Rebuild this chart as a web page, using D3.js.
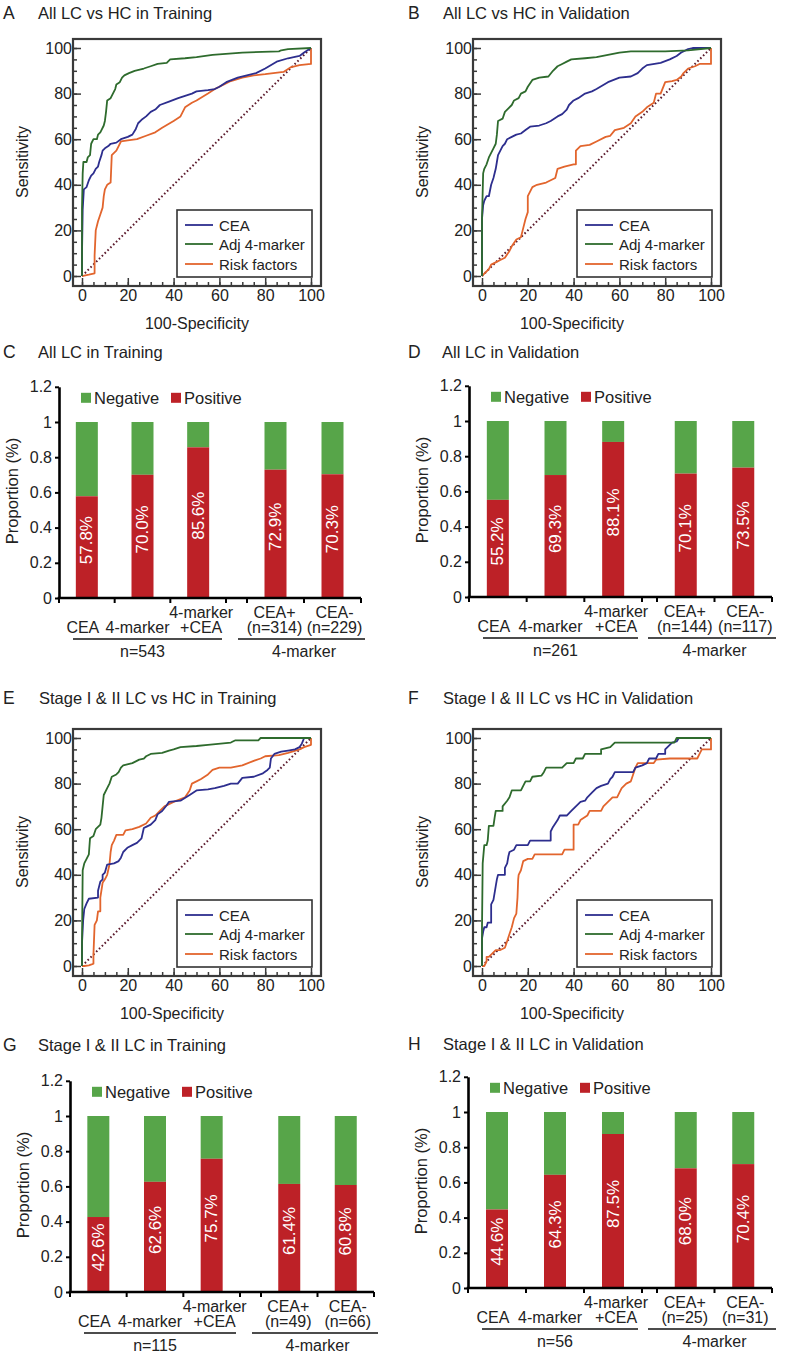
<!DOCTYPE html>
<html><head><meta charset="utf-8">
<script src="https://cdnjs.cloudflare.com/ajax/libs/d3/7.8.5/d3.min.js"></script>
<style>
body{margin:0;background:#fff}
svg{display:block}
text{font-family:"Liberation Sans",Arial,Helvetica,sans-serif;fill:#222}
</style>
</head><body>
<svg id="chart" width="787" height="1355"></svg>
<script>
// ---------------- DATA ----------------
const rocSeriesNames = ["CEA", "Adj 4-marker", "Risk factors"];
const rocTitles = ["All LC vs HC in Training", "All LC vs HC in Validation",
  "Stage I & II LC vs HC in Training", "Stage I & II LC vs HC in Validation"];
const rocTickValues = [0, 20, 40, 60, 80, 100];
const rocMinorTicks = [0,5,10,15,20,25,30,35,40,45,50,55,60,65,70,75,80,85,90,95,100];
const rocDiagonal = [[0,0],[100,100]];

// Panel A: [100-Specificity, Sensitivity]
const A_cea = [[0,0],[0,10],[0.3,29],[0.8,38],[2,39],[3,42],[4,44],[5,45],[6,47],[7,48],[7.5,50],[8.5,53],[9,55],[10,56],[11.5,57],[12.5,58],[15,58.5],[17,60],[20,61],[22,62],[23.5,64.5],[24.5,67],[26,68.5],[28,70],[30,72],[32,73],[34,75],[38,76.5],[42,78],[45,79],[48,80],[50,81],[55,81.5],[58,82],[60,83],[63,85],[68,87],[72,88],[76,89],[80,91],[85,94],[90,95.5],[95,96.5],[97,98],[100,100]];
const A_adj = [[0,0],[0,30],[0.3,45],[0.6,50],[2,50],[2.5,52],[3.5,53],[4,58],[5,60],[6.5,60],[7,62],[8,63],[8.5,64],[9.5,66],[10,68],[10.5,72],[11,77],[12.5,78],[13.5,80],[14.5,82],[15,84],[16.5,85],[17.5,87],[18.5,88],[20.5,89],[23,90],[27,91],[30,92],[33,93],[37,93.5],[38.5,95],[45,95.5],[50,96],[57,97],[70,98],[86,98.5],[87,99],[90,99.5],[100,100]];
const A_risk = [[0,0],[1,0.2],[3,0.6],[5.5,1.2],[5.5,9],[6,20],[7,24],[8,27],[9,30],[9.5,35],[10,38],[11,40],[12.5,41],[13,53],[14,54],[15,55],[16,57],[17,59],[20,59.5],[24,60],[28,61.5],[32,63],[35,65],[40,68],[43,70],[44,72],[45,74],[48,76],[50,77],[55,80],[58,82],[62,84],[65,85.5],[70,87],[75,88],[80,88.5],[88,89.5],[91,91.5],[95,92.5],[100,93],[100,100]];

// Panel B
const B_cea = [[0,0],[0,25],[0.5,31],[1,33],[2,35],[3,35],[4,40],[5,43],[6,47],[6.5,50],[7,53],[8,55],[9,57],[10,58],[11,60],[13,61],[15,62],[17,62.5],[19,64],[21,65.5],[25,66],[28,67],[30,68],[33,70],[35,71],[37,73],[38,75],[40,77],[42,78],[45,80],[48,81],[50,82],[55,85],[60,87],[65,87.5],[68,89],[70,91],[72,92.5],[78,93.5],[82,95],[85,96.5],[87,98],[90,99.5],[92,100],[100,100]];
const B_adj = [[0,0],[0,25],[0.5,45],[1,47],[2,49],[3,52],[4,54],[5,56],[6,58],[6.5,62],[7,68],[9,69],[10,72],[11,73],[13,75],[14,77],[16,78],[17,80],[19,81],[20,83],[22,86],[25,87],[29,87.5],[31,90],[33,92],[35,93],[37,94],[39,95],[45,95.5],[50,96],[55,97],[60,98],[65,98.5],[80,98.5],[90,99],[100,100]];
const B_risk = [[0,0],[1,1],[3,3],[4,5],[6,6],[8,7],[10,8],[12,11],[13,13],[15,16],[17,17],[18,21],[19,25],[20,28],[20,35],[21,37],[22,39],[24,40],[28,41],[32,43],[33,47],[36,48],[40,49],[41,49],[41,55],[43,57],[47,57.5],[50,59],[54,61],[56,61.5],[58,64],[62,65],[65,67],[67,70],[70,72],[72,74],[75,76],[76,80],[78,80],[80,85],[83,85.5],[85,86],[87,87.5],[88,89],[90,91],[93,92],[95,93],[100,93],[100,100]];

// Panel E
const E_cea = [[0,0],[0,10],[0.5,20],[1,25],[2,27.5],[3,29.5],[7,30],[7,33],[8,37],[9,38],[9,40],[10,41],[11,44.5],[14,45],[16,46],[17,47.5],[18,50],[20,52],[22,53],[24,54],[26,56],[27,60.5],[28,61],[30,62],[32,64],[33,66.5],[35,68],[37,70.5],[38,72],[43,72.5],[47,75],[50,77],[55,77.5],[58,78],[62,79],[65,80],[68,80],[70,82.5],[75,83],[79,84.5],[81,86],[82,87],[82.5,91],[84,93],[87,94],[90,94.5],[93,95],[95,96],[96,97.5],[97,100],[100,100]];
const E_adj = [[0,0],[0,10],[0.3,42],[1,45],[2,47],[3,49],[3.5,56],[5,57],[6,60],[8,62],[8.5,65],[9,70],[9.5,75],[11,78],[12,80],[13,83],[15,84],[16,85],[17,87],[18,88],[22,89],[25,90.5],[27,91],[28,92],[30,93],[35,93.5],[38,94.5],[40,95],[43,96],[50,96.5],[55,97],[65,98],[67,99],[77,99],[78,100],[100,100]];
const E_risk = [[0,0],[1,0],[3,0.3],[4.5,0.8],[5,1],[5,5],[5.5,18],[6.5,20],[7,24],[8,24],[8,30],[9,36.5],[10,38],[11,40],[12,44.5],[12.5,50],[13,53],[14,55],[15,57.5],[18,57.5],[19,59.5],[22,60],[25,61],[28,62.5],[30,65],[32,66],[34,68],[36,70],[40,72],[45,74],[47,77],[48,80],[50,81],[52,82],[55,84],[57,86],[60,87],[65,87],[70,88],[75,90],[78,91],[80,92],[86,92.5],[90,93.5],[95,95],[97,96],[100,97],[100,100]];

// Panel F
const F_cea = [[0,0],[0,12],[0.5,15],[1,17],[2,17],[2.5,19],[4,19],[4,27],[5,29],[6,35],[6.5,38],[7,40],[10,40],[10,43],[11,45],[11.5,48],[12,50],[14,51],[15,53],[20,53],[21,55],[30,55],[30,59],[31,61],[33,64],[34,66],[37,66],[39,68],[41,70],[43,72],[45,72.5],[46,74],[48,76],[50,78],[52,79],[55,80],[56,82],[57,83],[58,85],[66,85],[67,87],[70,88],[72,89],[73,91],[76,91],[77,93],[80,93],[80,95],[82,97],[83,98],[85,98.5],[86,100],[100,100]];
const F_adj = [[0,0],[0,17],[0.3,45],[1,53],[2,53],[2.5,55],[3,61.5],[5,61.5],[5.5,65],[6,68],[9,68],[9,70],[11,72.5],[12,74],[13,77],[17,77],[18,79],[19,81],[21,81],[22,83],[26,83.5],[27,85],[28,87],[35,87],[37,89],[40,89],[41,91],[44,91],[45,93],[52,93],[52,95],[56,96],[58,98],[84,98],[85,100],[100,100]];
const F_risk = [[0,0],[1,0],[2,2],[2,4],[3,4],[4,5],[6,7],[8,7],[10,8],[11,11],[12,14],[13,17],[14,21],[15,23],[15.5,30],[15.8,38],[16,40],[17,42],[18,46],[20,47],[22,47],[23,49],[35,49],[36,51],[40,51],[40,62],[42,62],[43,64],[46,66],[47,68],[52,68],[53,70],[55,72],[57,74],[59,74],[60,76],[61,78],[63,80],[65,81],[66,84],[67,87],[68,89],[75,89],[76,90.5],[82,91],[94,91],[95,93],[96,95],[100,95],[100,100]];

// Bar panels
const barTitles = ["All LC in Training", "All LC in Validation",
  "Stage I & II LC in Training", "Stage I & II LC in Validation"];
const barLegend = ["Negative", "Positive"];
const barYTicks = [0, 0.2, 0.4, 0.6, 0.8, 1, 1.2];
const barYTickLabels = ["0", "0.2", "0.4", "0.6", "0.8", "1", "1.2"];
const C_positive = [57.8, 70.0, 85.6, 72.9, 70.3];
const D_positive = [55.2, 69.3, 88.1, 70.1, 73.5];
const G_positive = [42.6, 62.6, 75.7, 61.4, 60.8];
const H_positive = [44.6, 64.3, 87.5, 68.0, 70.4];
const C_labels = [["CEA"], ["4-marker"], ["4-marker", "+CEA"], ["CEA+", "(n=314)"], ["CEA-", "(n=229)"]];
const D_labels = [["CEA"], ["4-marker"], ["4-marker", "+CEA"], ["CEA+", "(n=144)"], ["CEA-", "(n=117)"]];
const G_labels = [["CEA"], ["4-marker"], ["4-marker", "+CEA"], ["CEA+", "(n=49)"], ["CEA-", "(n=66)"]];
const H_labels = [["CEA"], ["4-marker"], ["4-marker", "+CEA"], ["CEA+", "(n=25)"], ["CEA-", "(n=31)"]];
const C_groups = ["n=543", "4-marker"];
const D_groups = ["n=261", "4-marker"];
const G_groups = ["n=115", "4-marker"];
const H_groups = ["n=56", "4-marker"];

// ---------------- DRAWING ----------------
const svg = d3.select("#chart");
const rocColors = ["#2d2e8e", "#2e6b2d", "#e2652d"];
const diagColor = "#5c1b2d";
const posColor = "#bd2127";
const negColor = "#57a549";

function panelTitle(letter, title, lx, tx, ty) {
  svg.append("text").attr("x", lx).attr("y", ty).attr("dominant-baseline", "central")
    .attr("font-size", 17.5).text(letter);
  svg.append("text").attr("x", tx).attr("y", ty).attr("dominant-baseline", "central")
    .attr("font-size", 16.5).text(title);
}

function drawRoc(p) {
  panelTitle(p.letter, p.title, p.lx, p.tx, p.ty);
  const g = svg.append("g");
  const x = d3.scaleLinear().domain([0, 100]).range([p.x0, p.x0 + 229]);
  const y = d3.scaleLinear().domain([0, 100]).range([p.y0, p.y0 - 228]);
  const fx0 = x(0) - 9, fx1 = x(100) + 10, fy0 = y(100) - 9, fy1 = y(0) + 10;

  g.append("rect").attr("x", fx0).attr("y", fy0).attr("width", fx1 - fx0).attr("height", fy1 - fy0)
    .attr("fill", "#fff").attr("stroke", "#3a3a3a").attr("stroke-width", 2.2);

  const styleAxis = (sel) => {
    sel.select(".domain").remove();
    sel.selectAll(".tick line").attr("stroke", "#3a3a3a").attr("stroke-width", 1.5);
    sel.selectAll(".tick text").attr("fill", "#222").attr("font-size", 16)
      .attr("font-family", "'Liberation Sans',Arial,Helvetica,sans-serif");
  };
  g.append("g").attr("transform", `translate(${fx0},0)`)
    .call(d3.axisLeft(y).tickValues(rocMinorTicks).tickSize(-4).tickFormat(""))
    .call(styleAxis);
  g.append("g").attr("transform", `translate(0,${fy1})`)
    .call(d3.axisBottom(x).tickValues(rocMinorTicks).tickSize(-4).tickFormat(""))
    .call(styleAxis);
  g.append("g").attr("transform", `translate(${fx0},0)`)
    .call(d3.axisLeft(y).tickValues(rocTickValues).tickSize(-8).tickPadding(1).tickFormat(d3.format("d")))
    .call(styleAxis);
  g.append("g").attr("transform", `translate(0,${fy1})`)
    .call(d3.axisBottom(x).tickValues(rocTickValues).tickSize(-8).tickPadding(4).tickFormat(d3.format("d")))
    .call(styleAxis);

  const line = d3.line().x(d => x(d[0])).y(d => y(d[1]));
  g.append("path").datum(rocDiagonal).attr("d", line).attr("fill", "none")
    .attr("stroke", diagColor).attr("stroke-width", 2).attr("stroke-dasharray", "1.6,2.4");

  const order = [2, 0, 1];
  g.selectAll("path.curve").data(order.map(i => ({i, pts: p.data[i]}))).join("path")
    .attr("class", "curve")
    .attr("d", d => line(d.pts)).attr("fill", "none")
    .attr("stroke", d => rocColors[d.i]).attr("stroke-width", 1.8)
    .attr("stroke-linejoin", "round");

  const lg = g.append("g");
  lg.append("rect").attr("x", p.x0 + 95).attr("y", p.y0 - 66).attr("width", 135).attr("height", 67)
    .attr("fill", "#fff").attr("stroke", "#333").attr("stroke-width", 1.6);
  const rowsY = [p.y0 - 51, p.y0 - 32, p.y0 - 12];
  rocSeriesNames.forEach((name, i) => {
    lg.append("line").attr("x1", p.x0 + 103).attr("x2", p.x0 + 131)
      .attr("y1", rowsY[i]).attr("y2", rowsY[i]).attr("stroke", rocColors[i]).attr("stroke-width", 1.8);
    lg.append("text").attr("x", p.x0 + 137).attr("y", rowsY[i]).attr("dominant-baseline", "central")
      .attr("font-size", 15).text(name);
  });

  svg.append("text").attr("transform", `translate(${p.ylabX},${(y(0) + y(100)) / 2}) rotate(-90)`)
    .attr("text-anchor", "middle").attr("dominant-baseline", "central").attr("font-size", 16).text("Sensitivity");
  svg.append("text").attr("x", p.xlab[0]).attr("y", p.xlab[1]).attr("text-anchor", "middle")
    .attr("dominant-baseline", "central").attr("font-size", 16).text("100-Specificity");
}

function drawBars(p) {
  panelTitle(p.letter, p.title, p.lx, p.tx, p.ty);
  const g = svg.append("g");
  const y = d3.scaleLinear().domain([0, 1.2]).range([p.y0, p.y0 - 211.2]);
  const xs1 = d3.scaleBand().domain([0, 1, 2]).range(p.r1);
  const xs2 = d3.scaleBand().domain([3, 4]).range(p.r2);
  const cx = i => i < 3 ? xs1(i) + xs1.bandwidth() / 2 : xs2(i) + xs2.bandwidth() / 2;
  const bw = 22;
  const vals = p.values.map((v, i) => ({i, pct: v, v: v / 100}));

  const ya = g.append("g").attr("transform", `translate(${p.axisX},0)`)
    .call(d3.axisLeft(y).tickValues(barYTicks).tickFormat((d, i) => barYTickLabels[i])
      .tickSize(4).tickSizeOuter(0).tickPadding(3));
  ya.select(".domain").attr("stroke", "#000").attr("stroke-width", 2.6);
  ya.selectAll(".tick line").attr("stroke", "#000").attr("stroke-width", 2);
  ya.selectAll(".tick text").attr("fill", "#222").attr("font-size", 16)
    .attr("font-family", "'Liberation Sans',Arial,Helvetica,sans-serif");

  g.selectAll("rect.neg").data(vals).join("rect").attr("class", "neg")
    .attr("x", d => cx(d.i) - bw / 2).attr("width", bw)
    .attr("y", y(1)).attr("height", d => y(d.v) - y(1)).attr("fill", negColor);
  g.selectAll("rect.pos").data(vals).join("rect").attr("class", "pos")
    .attr("x", d => cx(d.i) - bw / 2).attr("width", bw)
    .attr("y", d => y(d.v)).attr("height", d => y(0) - y(d.v)).attr("fill", posColor);
  g.selectAll("text.pct").data(vals).join("text").attr("class", "pct")
    .attr("transform", d => `translate(${cx(d.i)},${y(d.v / 2) - 7}) rotate(-90)`)
    .attr("text-anchor", "middle").attr("dominant-baseline", "central")
    .attr("font-size", 17).style("fill", "#fff").text(d => d.pct.toFixed(1) + "%");

  g.append("line").attr("x1", p.axisX - 1.3).attr("x2", p.r2[1]).attr("y1", y(0)).attr("y2", y(0))
    .attr("stroke", "#000").attr("stroke-width", 2.6);
  const edges = [p.r1[0], xs1(1), xs1(2), p.r1[1], p.r2[0], xs2(4), p.r2[1]];
  g.selectAll("line.xt").data(edges).join("line").attr("class", "xt")
    .attr("x1", d => d).attr("x2", d => d).attr("y1", y(0)).attr("y2", y(0) + 5)
    .attr("stroke", "#000").attr("stroke-width", 2);

  const nudge = [-4, -5, 3, -1, 2];
  p.labels.forEach((lab, i) => {
    const lines = lab.length === 1 ? [null, lab[0]] : lab;
    lines.forEach((t, k) => {
      if (t === null) return;
      g.append("text").attr("x", cx(i) + nudge[i]).attr("y", y(0) + (k === 0 ? 19.5 : 35))
        .attr("text-anchor", "middle").attr("font-size", 16).text(t);
    });
  });
  const groups = [[p.r1[0] + 14, p.r1[1] - 4], [p.r2[0] - 9, p.r2[1] + 4]];
  groups.forEach((gr, k) => {
    g.append("line").attr("x1", gr[0]).attr("x2", gr[1]).attr("y1", y(0) + 41).attr("y2", y(0) + 41)
      .attr("stroke", "#111").attr("stroke-width", 1.4);
    g.append("text").attr("x", k === 0 ? (p.r1[0] + p.r1[1]) / 2 : (p.r2[0] + p.r2[1]) / 2)
      .attr("y", y(0) + 58.5).attr("text-anchor", "middle").attr("font-size", 16).text(p.groups[k]);
  });

  const legColors = [negColor, posColor];
  [22, 112].forEach((off, k) => {
    g.append("rect").attr("x", p.axisX + off).attr("y", y(1.2) + 6).attr("width", 10).attr("height", 10)
      .attr("fill", legColors[k]);
    g.append("text").attr("x", p.axisX + off + 13).attr("y", y(1.2) + 11.5).attr("dominant-baseline", "central")
      .attr("font-size", 16.5).text(barLegend[k]);
  });

  svg.append("text").attr("transform", `translate(${p.axisX - 47},${y(0) - 107}) rotate(-90)`)
    .attr("text-anchor", "middle").attr("dominant-baseline", "central").attr("font-size", 16.5).text("Proportion (%)");
}

drawRoc({letter: "A", title: rocTitles[0], lx: 3, tx: 38, ty: 13, x0: 82, y0: 276, ylabX: 22, xlab: [197, 323], data: [A_cea, A_adj, A_risk]});
drawRoc({letter: "B", title: rocTitles[1], lx: 408, tx: 443, ty: 13, x0: 482, y0: 276, ylabX: 422, xlab: [572, 323], data: [B_cea, B_adj, B_risk]});
drawRoc({letter: "E", title: rocTitles[2], lx: 3, tx: 39, ty: 698, x0: 82, y0: 966, ylabX: 22, xlab: [172, 1013], data: [E_cea, E_adj, E_risk]});
drawRoc({letter: "F", title: rocTitles[3], lx: 408, tx: 443, ty: 698, x0: 482, y0: 966, ylabX: 422, xlab: [572, 1013], data: [F_cea, F_adj, F_risk]});

drawBars({letter: "C", title: barTitles[0], lx: 3, tx: 38, ty: 352, axisX: 59, y0: 598, r1: [59, 226], r2: [247, 361], values: C_positive, labels: C_labels, groups: C_groups});
drawBars({letter: "D", title: barTitles[1], lx: 408, tx: 442, ty: 352, axisX: 469, y0: 597, r1: [469, 642], r2: [657, 772], values: D_positive, labels: D_labels, groups: D_groups});
drawBars({letter: "G", title: barTitles[2], lx: 3, tx: 38, ty: 1045, axisX: 70, y0: 1292, r1: [70, 240], r2: [261, 374], values: G_positive, labels: G_labels, groups: G_groups});
drawBars({letter: "H", title: barTitles[3], lx: 408, tx: 443, ty: 1044, axisX: 468, y0: 1288, r1: [468, 642], r2: [657, 772], values: H_positive, labels: H_labels, groups: H_groups});
</script>
</body></html>
